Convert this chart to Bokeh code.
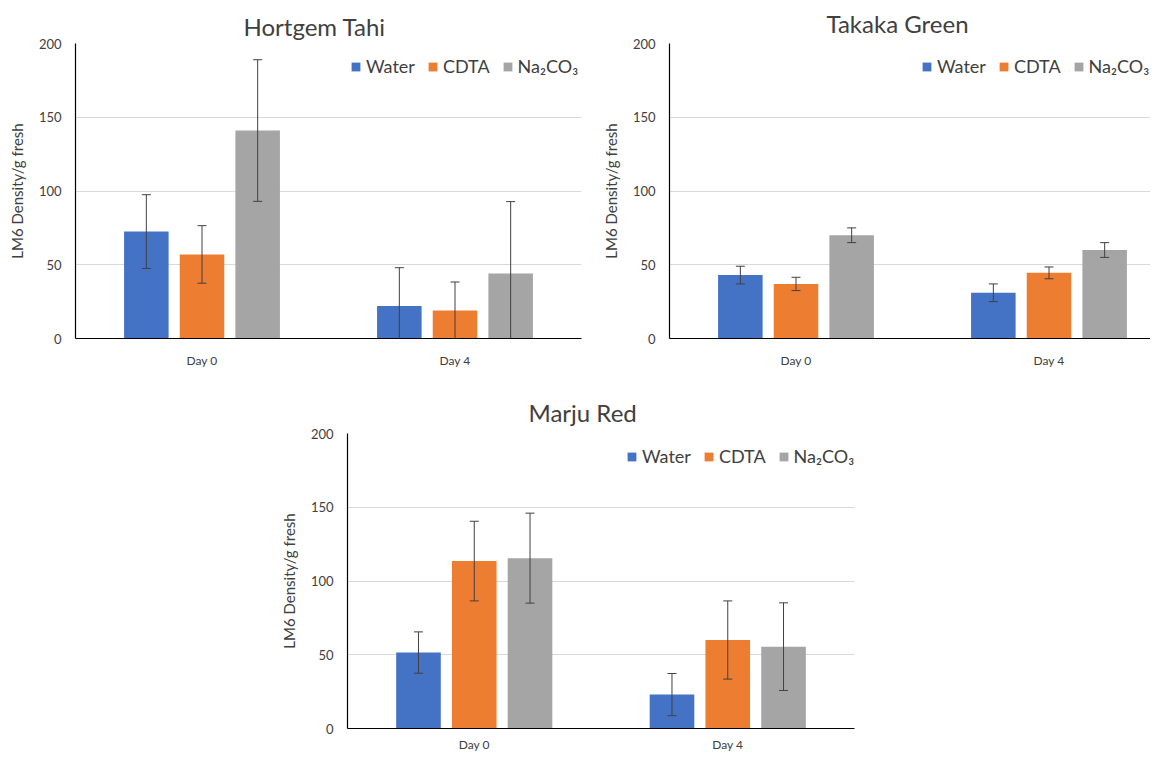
import numpy as np
from bokeh.plotting import figure
from bokeh.models import (Range1d, FixedTicker, Whisker, TeeHead, ColumnDataSource,
                          Legend, LegendItem, Spacer)
from bokeh.layouts import row, column
from bokeh.embed import file_html
from bokeh.resources import INLINE

# ---------------- data ----------------
days = ["Day 0", "Day 4"]
series = ["Water", "CDTA", "Na\u2082CO\u2083"]
colors = ["#4472C4", "#ED7D31", "#A5A5A5"]
y_ticks = [0, 50, 100, 150, 200]

hortgem_water = [72.5, 22]
hortgem_water_err = [25, 26]
hortgem_cdta = [57, 19]
hortgem_cdta_err = [19.5, 19.3]
hortgem_na = [141, 44]
hortgem_na_err = [48, 48.8]

takaka_water = [43, 31]
takaka_water_err = [6, 6]
takaka_cdta = [37, 44.5]
takaka_cdta_err = [4.5, 4]
takaka_na = [70, 60]
takaka_na_err = [5, 5]

marju_water = [51.5, 23]
marju_water_err = [14, 14.3]
marju_cdta = [113.5, 60]
marju_cdta_err = [27, 26.5]
marju_na = [115.5, 55.5]
marju_na_err = [30.5, 29.7]

FONT = "Lato"
offsets = [-0.22, 0.0, 0.22]
bar_w = 0.176


def make_panel(title, vals, errs, width, height, x_end, left, right, top, bottom,
               title_standoff, title_offset, x_label_standoff, legend_xy):
    p = figure(width=width, height=height, x_range=Range1d(0, x_end), y_range=Range1d(0, 200),
               output_backend="svg", toolbar_location=None, tools="",
               min_border_left=left, min_border_right=right, min_border_top=top,
               min_border_bottom=bottom)
    p.title.text = title
    p.title.align = "left"
    p.title.offset = title_offset
    p.title.text_font = FONT
    p.title.text_font_size = "24px"
    p.title.text_font_style = "normal"
    p.title.text_color = "#404040"
    p.title.standoff = title_standoff
    p.outline_line_color = None
    p.background_fill_color = "white"
    p.border_fill_color = "white"

    base = np.arange(len(days)) + 0.5
    items = []
    for i, (v, e) in enumerate(zip(vals, errs)):
        v = np.asarray(v, dtype=float)
        e = np.asarray(e, dtype=float)
        src = ColumnDataSource(dict(x=base + offsets[i], top=v, upper=v + e, lower=v - e))
        r = p.vbar(x="x", top="top", width=bar_w, source=src, fill_color=colors[i], line_color=None)
        items.append(LegendItem(label=series[i], renderers=[r]))
        w = Whisker(base="x", upper="upper", lower="lower", source=src, level="overlay",
                    line_color="#404040", line_width=1,
                    upper_head=TeeHead(size=9, line_color="#404040", line_width=1),
                    lower_head=TeeHead(size=9, line_color="#404040", line_width=1))
        p.add_layout(w)

    # axes
    p.xaxis.ticker = FixedTicker(ticks=list(base))
    p.xaxis.major_label_overrides = {float(b): d for b, d in zip(base, days)}
    p.xaxis.major_tick_line_color = None
    p.xaxis.minor_tick_line_color = None
    p.xaxis.major_tick_out = 0
    p.xaxis.major_tick_in = 0
    p.xaxis.major_label_standoff = x_label_standoff
    p.xaxis.axis_line_color = "#000000"
    p.xaxis.axis_line_width = 1.2
    p.xaxis.major_label_text_font = FONT
    p.xaxis.major_label_text_font_size = "12px"
    p.xaxis.major_label_text_color = "#404040"

    p.yaxis.ticker = FixedTicker(ticks=y_ticks)
    p.yaxis.major_tick_line_color = None
    p.yaxis.minor_tick_line_color = None
    p.yaxis.major_tick_out = 0
    p.yaxis.major_tick_in = 0
    p.yaxis.major_label_standoff = 14
    p.yaxis.axis_line_color = "#000000"
    p.yaxis.axis_line_width = 1.2
    p.yaxis.major_label_text_font = FONT
    p.yaxis.major_label_text_font_size = "13px"
    p.yaxis.major_label_text_color = "#404040"
    p.yaxis.axis_label = "LM6 Density/g fresh"
    p.yaxis.axis_label_text_font = FONT
    p.yaxis.axis_label_text_font_size = "15px"
    p.yaxis.axis_label_text_font_style = "normal"
    p.yaxis.axis_label_text_color = "#404040"
    p.yaxis.axis_label_standoff = 10

    p.xgrid.grid_line_color = None
    p.ygrid.grid_line_color = "#d9d9d9"
    p.ygrid.grid_line_width = 1

    legend = Legend(items=items, orientation="horizontal", location=legend_xy,
                    border_line_color=None, background_fill_alpha=0,
                    label_text_font=FONT, label_text_font_size="18px",
                    label_text_color="#404040", glyph_width=11, glyph_height=11,
                    spacing=12, label_standoff=5, margin=0, padding=0)
    p.add_layout(legend)
    return p


p1 = make_panel("Hortgem Tahi",
                [hortgem_water, hortgem_cdta, hortgem_na],
                [hortgem_water_err, hortgem_cdta_err, hortgem_na_err],
                width=582, height=376, x_end=2.0,
                left=65, right=5, top=39, bottom=38, title_standoff=5, title_offset=168,
                x_label_standoff=14, legend_xy=(275, 261))

p2 = make_panel("Takaka Green",
                [takaka_water, takaka_cdta, takaka_na],
                [takaka_water_err, takaka_cdta_err, takaka_na_err],
                width=564, height=376, x_end=481 / 253,
                left=83, right=0, top=42, bottom=37, title_standoff=12, title_offset=157,
                x_label_standoff=14, legend_xy=(252, 261))

p3 = make_panel("Marju Red",
                [marju_water, marju_cdta, marju_na],
                [marju_water_err, marju_cdta_err, marju_na_err],
                width=588, height=378, x_end=2.0,
                left=68, right=10, top=57, bottom=24, title_standoff=13, title_offset=181,
                x_label_standoff=8, legend_xy=(279, 261))

layout = row(Spacer(width=4, height=10),
             column(row(p1, p2), row(Spacer(width=272, height=10), p3)))

open("out.html", "w").write(file_html(layout, INLINE))
